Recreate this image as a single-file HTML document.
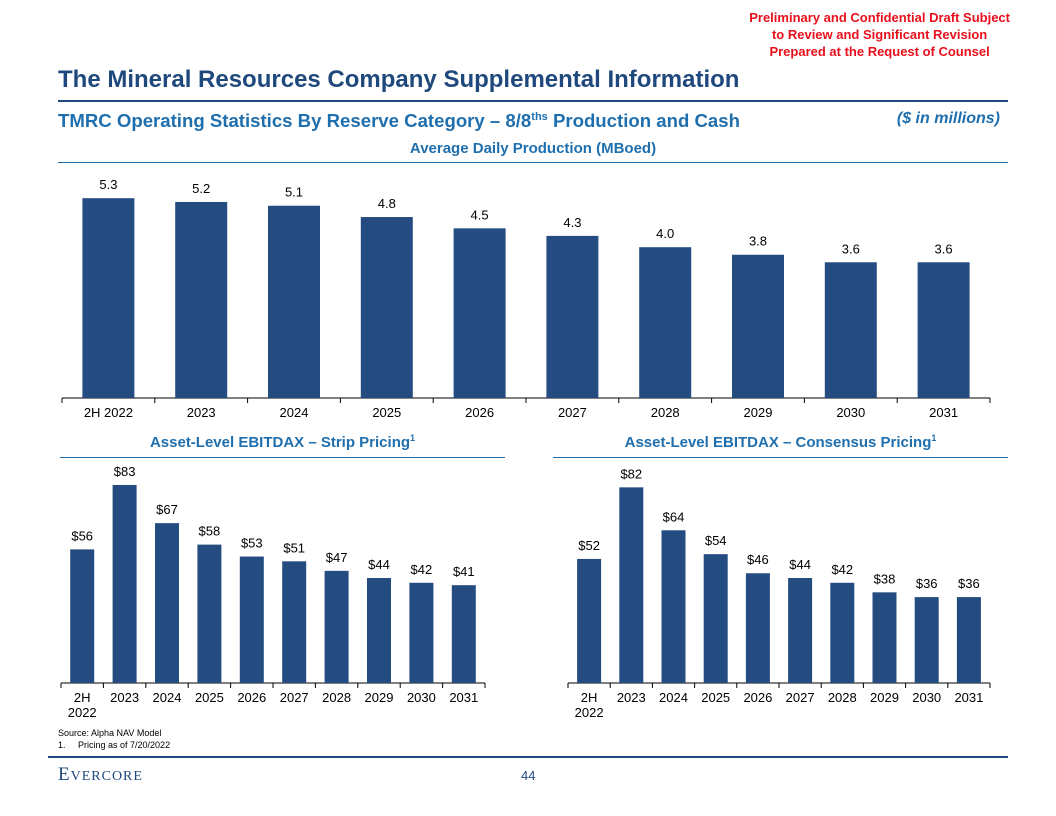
<!DOCTYPE html>
<html><head><meta charset="utf-8"><style>
body{margin:0;width:1056px;height:816px;background:#fff;position:relative;font-family:"Liberation Sans",Arial,sans-serif;overflow:hidden}
.a{position:absolute;white-space:nowrap}
</style></head><body>
<div class="a" style="right:46px;top:9px;text-align:center;color:#e8101c;font-weight:bold;font-size:13px;line-height:17px">Preliminary and Confidential Draft Subject<br>to Review and Significant Revision<br>Prepared at the Request of Counsel</div>
<div class="a" style="left:58px;top:66px;color:#1f497d;font-weight:bold;font-size:24px">The Mineral Resources Company Supplemental Information</div>
<div class="a" style="left:58px;top:100px;width:950px;height:2px;background:#1f497d"></div>
<div class="a" style="left:58px;top:110px;color:#1f6fae;font-weight:bold;font-size:18.6px">TMRC Operating Statistics By Reserve Category – 8/8<sup style="font-size:11px">ths</sup> Production and Cash</div>
<div class="a" style="right:56px;top:110px;color:#1f6fae;font-weight:bold;font-style:italic;font-size:16px">($ in millions)</div>
<div class="a" style="left:0;width:1066px;text-align:center;top:140px;color:#1f6fae;font-weight:bold;font-size:15px">Average Daily Production (MBoed)</div>
<div class="a" style="left:58px;top:162px;width:950px;height:1px;background:#1f6fae"></div>
<div class="a" style="left:60px;width:445px;text-align:center;top:433px;color:#1f6fae;font-weight:bold;font-size:15px">Asset-Level EBITDAX – Strip Pricing<sup style="font-size:9px">1</sup></div>
<div class="a" style="left:60px;top:457px;width:445px;height:1px;background:#1f6fae"></div>
<div class="a" style="left:553px;width:455px;text-align:center;top:433px;color:#1f6fae;font-weight:bold;font-size:15px">Asset-Level EBITDAX – Consensus Pricing<sup style="font-size:9px">1</sup></div>
<div class="a" style="left:553px;top:457px;width:455px;height:1px;background:#1f6fae"></div>
<svg class="a" style="left:0;top:0" width="1056" height="816" id="svg"></svg>
<div class="a" style="left:58px;top:727px;font-size:9px;line-height:12px">Source: Alpha NAV Model<br>1.&nbsp;&nbsp;&nbsp;&nbsp;&nbsp;Pricing as of 7/20/2022</div>
<div class="a" style="left:48px;top:756px;width:960px;height:2px;background:#1f497d"></div>
<div class="a" style="left:58px;top:764px;font-family:'Liberation Serif',serif;color:#1f497d;font-size:19px;letter-spacing:1px">E<span style="font-size:14px">VERCORE</span></div>
<div class="a" style="left:521px;top:768px;color:#1f497d;font-size:13px">44</div>
<script>
const prodCats=["2H 2022","2023","2024","2025","2026","2027","2028","2029","2030","2031"];
const prodVals=[5.3,5.2,5.1,4.8,4.5,4.3,4.0,3.8,3.6,3.6];
const ebCats=["2H|2022","2023","2024","2025","2026","2027","2028","2029","2030","2031"];
const stripVals=[56,83,67,58,53,51,47,44,42,41];
const consVals=[52,82,64,54,46,44,42,38,36,36];
const svg=document.getElementById('svg');
const NS='http://www.w3.org/2000/svg';
function mk(t,a){const e=document.createElementNS(NS,t);for(const k in a)e.setAttribute(k,a[k]);svg.appendChild(e);return e;}
function chart(name,cats,vals,x0,x1,base,scale,barW,fmt,fs){
  const band=(x1-x0)/cats.length;
  const ax=mk('line',{x1:x0,x2:x1,y1:base,y2:base,stroke:'#000','stroke-width':1});
  
  
  for(let i=0;i<=cats.length;i++){const tk=mk('line',{x1:x0+i*band,x2:x0+i*band,y1:base,y2:base+5,stroke:'#000'});
    
    }
  vals.forEach((v,i)=>{
    const cx=x0+band*(i+0.5),h=v*scale;
    const r=mk('rect',{x:cx-barW/2,y:base-h,width:barW,height:h,fill:'#244c80'});
    
    
    const t=mk('text',{x:cx,y:base-h-9,'text-anchor':'middle','font-size':fs});
    t.textContent=fmt(v);
    
    
    const parts=cats[i].split('|');
    parts.forEach((p,j)=>{const c=mk('text',{x:cx,y:base+19+j*15,'text-anchor':'middle','font-size':13});
      c.textContent=p;
      
      });
  });
}
chart('production',prodCats,prodVals,62,990,398,37.7,52,v=>v.toFixed(1),13);
chart('strip',ebCats,stripVals,61,485,683,2.386,24,v=>'$'+v,13);
chart('consensus',ebCats,consVals,568,990,683,2.386,24,v=>'$'+v,13);
</script>
</body></html>
